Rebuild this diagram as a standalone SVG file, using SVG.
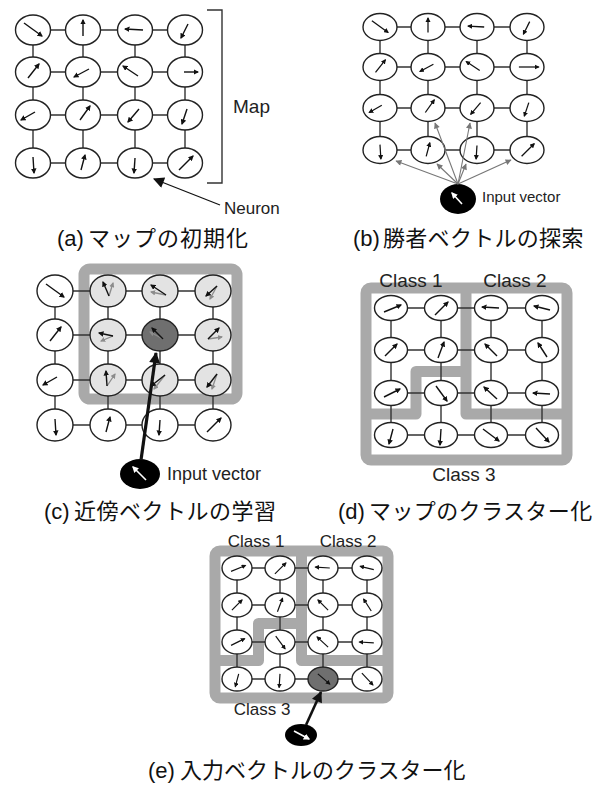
<svg xmlns="http://www.w3.org/2000/svg" width="608" height="787" viewBox="0 0 608 787">
<style>
.n{fill:#fff;stroke:#222;stroke-width:1.4}
.nl{fill:#e3e3e3;stroke:#222;stroke-width:1.4}
.nd{fill:#6f6f6f;stroke:#222;stroke-width:1.4}
.v{fill:none;stroke:#111;stroke-width:1.4;marker-end:url(#ah)}
.vg{fill:none;stroke:#8c8c8c;stroke-width:1.3;marker-end:url(#ahg)}
.vw{fill:none;stroke:#fff;stroke-width:1.6;marker-end:url(#ahw)}
.link{fill:none;stroke:#333;stroke-width:1.4}
.band{fill:none;stroke:#a9a9a9;stroke-width:11;stroke-linejoin:round}
.lbl{font-family:"Liberation Sans",Arial,sans-serif;fill:#222}
.cap{font-family:"Liberation Sans","Noto Sans CJK JP",sans-serif;font-size:22px;fill:#111}
</style>
<defs>
<marker id="ah" viewBox="0 0 10 10" refX="8" refY="5" markerWidth="4" markerHeight="4" orient="auto" markerUnits="strokeWidth"><path d="M0,0L10,5L0,10z" fill="#111"/></marker>
<marker id="ahg" viewBox="0 0 10 10" refX="8" refY="5" markerWidth="4" markerHeight="4" orient="auto" markerUnits="strokeWidth"><path d="M0,0L10,5L0,10z" fill="#8c8c8c"/></marker>
<marker id="ahw" viewBox="0 0 10 10" refX="8" refY="5" markerWidth="4" markerHeight="4" orient="auto" markerUnits="strokeWidth"><path d="M0,0L10,5L0,10z" fill="#fff"/></marker>
<marker id="ahb" viewBox="0 0 10 10" refX="9" refY="5" markerWidth="13" markerHeight="11" orient="auto" markerUnits="userSpaceOnUse"><path d="M0,0L10,5L0,10z" fill="#111"/></marker>
<marker id="ahgr" viewBox="0 0 10 10" refX="9" refY="5" markerWidth="7" markerHeight="6" orient="auto" markerUnits="userSpaceOnUse"><path d="M0,0L10,5L0,10z" fill="#777"/></marker>
</defs>
<rect width="608" height="787" fill="#fff"/>

<!-- class frames -->
<g id="frames">
<rect class="band" x="84" y="269" width="153" height="130" rx="6"/>
<rect class="band" x="366" y="288" width="201" height="172" rx="5"/>
<path class="band" d="M466,288V414H567M366,414H416V371.5H466"/>
<rect class="band" x="215" y="551" width="173" height="147" rx="5"/>
<path class="band" d="M301.5,551V660.5H388M215,660.5H258.5V623.5H301.5"/>
</g>

<!-- grid connectors -->
<g id="connectors">
<path class="link" d="M33,30H185M33,72H185M33,115H185M33,163H185M33,30V163M83,30V163M135,30V163M185,30V163"/>
<path class="link" d="M380,27H527M380,67H527M380,108H527M380,150H527M380,27V150M428,27V150M477,27V150M527,27V150"/>
<path class="link" d="M55,291H213M55,335H213M55,380H213M55,425H213M55,291V425M108,291V425M160,291V425M213,291V425"/>
<path class="link" d="M391,308H542M391,350H542M391,393H542M391,435H542M391,308V435M441,308V435M491,308V435M542,308V435"/>
<path class="link" d="M237,568H367M237,605H367M237,642H367M237,679H367M237,568V679M280,568V679M323,568V679M367,568V679"/>
</g>

<!-- panel (a) nodes -->
<g id="panel-a">
<g id="a11" transform="translate(33,30)"><ellipse class="n" rx="17.5" ry="15"/><path class="v" d="M-9,-7L9,6"/></g>
<g id="a12" transform="translate(83,30)"><ellipse class="n" rx="17.5" ry="15"/><path class="v" d="M0,6L0,-10"/></g>
<g id="a13" transform="translate(135,30)"><ellipse class="n" rx="17.5" ry="15"/><path class="v" d="M8,0L-10,-1"/></g>
<g id="a14" transform="translate(185,30)"><ellipse class="n" rx="17.5" ry="15"/><path class="v" d="M3,-6L-4,8"/></g>
<g id="a21" transform="translate(33,72)"><ellipse class="n" rx="17.5" ry="15"/><path class="v" d="M-5,6L6,-8"/></g>
<g id="a22" transform="translate(83,72)"><ellipse class="n" rx="17.5" ry="15"/><path class="v" d="M6,-3L-9,5"/></g>
<g id="a23" transform="translate(135,72)"><ellipse class="n" rx="17.5" ry="15"/><path class="v" d="M3,4L-12,-6"/></g>
<g id="a24" transform="translate(185,72)"><ellipse class="n" rx="17.5" ry="15"/><path class="v" d="M-1,0L13,0"/></g>
<g id="a31" transform="translate(33,115)"><ellipse class="n" rx="17.5" ry="15"/><path class="v" d="M2,-3L-12,5"/></g>
<g id="a32" transform="translate(83,115)"><ellipse class="n" rx="17.5" ry="15"/><path class="v" d="M-3,5L7,-9"/></g>
<g id="a33" transform="translate(135,115)"><ellipse class="n" rx="17.5" ry="15"/><path class="v" d="M4,-6L-7,7"/></g>
<g id="a34" transform="translate(185,115)"><ellipse class="n" rx="17.5" ry="15"/><path class="v" d="M2,-6L-3,9"/></g>
<g id="a41" transform="translate(33,163)"><ellipse class="n" rx="17.5" ry="15"/><path class="v" d="M0,-6L1,10"/></g>
<g id="a42" transform="translate(83,163)"><ellipse class="n" rx="17.5" ry="15"/><path class="v" d="M-2,7L2,-8"/></g>
<g id="a43" transform="translate(135,163)"><ellipse class="n" rx="17.5" ry="15"/><path class="v" d="M0,-5L-1,10"/></g>
<g id="a44" transform="translate(185,163)"><ellipse class="n" rx="17.5" ry="15"/><path class="v" d="M-6,7L8,-7"/></g>
<path id="map-bracket" d="M207,10H222V183H207" fill="none" stroke="#333" stroke-width="1.4"/>
<text class="lbl" x="233" y="113" font-size="19">Map</text>
<text class="lbl" x="224" y="214" font-size="17">Neuron</text>
</g>

<!-- panel (b) nodes -->
<g id="panel-b">
<g id="b11" transform="translate(380,27)"><ellipse class="n" rx="17" ry="13.5"/><path class="v" transform="scale(0.9)" d="M-9,-7L9,6"/></g>
<g id="b12" transform="translate(428,27)"><ellipse class="n" rx="17" ry="13.5"/><path class="v" transform="scale(0.9)" d="M0,6L0,-10"/></g>
<g id="b13" transform="translate(477,27)"><ellipse class="n" rx="17" ry="13.5"/><path class="v" transform="scale(0.9)" d="M8,0L-10,-1"/></g>
<g id="b14" transform="translate(527,27)"><ellipse class="n" rx="17" ry="13.5"/><path class="v" transform="scale(0.9)" d="M3,-6L-4,8"/></g>
<g id="b21" transform="translate(380,67)"><ellipse class="n" rx="17" ry="13.5"/><path class="v" transform="scale(0.9)" d="M-5,6L6,-8"/></g>
<g id="b22" transform="translate(428,67)"><ellipse class="n" rx="17" ry="13.5"/><path class="v" transform="scale(0.9)" d="M6,-3L-9,5"/></g>
<g id="b23" transform="translate(477,67)"><ellipse class="n" rx="17" ry="13.5"/><path class="v" transform="scale(0.9)" d="M3,4L-12,-6"/></g>
<g id="b24" transform="translate(527,67)"><ellipse class="n" rx="17" ry="13.5"/><path class="v" transform="scale(0.9)" d="M-9,0L13,0"/></g>
<g id="b31" transform="translate(380,108)"><ellipse class="n" rx="17" ry="13.5"/><path class="v" transform="scale(0.9)" d="M2,-3L-12,5"/></g>
<g id="b32" transform="translate(428,108)"><ellipse class="n" rx="17" ry="13.5"/><path class="v" transform="scale(0.9)" d="M-3,5L7,-9"/></g>
<g id="b33" transform="translate(477,108)"><ellipse class="n" rx="17" ry="13.5"/><path class="v" transform="scale(0.9)" d="M4,-6L-7,7"/></g>
<g id="b34" transform="translate(527,108)"><ellipse class="n" rx="17" ry="13.5"/><path class="v" transform="scale(0.9)" d="M2,-6L-3,9"/></g>
<g id="b41" transform="translate(380,150)"><ellipse class="n" rx="17" ry="13.5"/><path class="v" transform="scale(0.9)" d="M0,-6L1,10"/></g>
<g id="b42" transform="translate(428,150)"><ellipse class="n" rx="17" ry="13.5"/><path class="v" transform="scale(0.9)" d="M-2,7L2,-8"/></g>
<g id="b43" transform="translate(477,150)"><ellipse class="n" rx="17" ry="13.5"/><path class="v" transform="scale(0.9)" d="M0,-5L-1,10"/></g>
<g id="b44" transform="translate(527,150)"><ellipse class="n" rx="17" ry="13.5"/><path class="v" transform="scale(0.9)" d="M-6,7L8,-7"/></g>
<g id="b-input"><ellipse cx="458" cy="199" rx="18" ry="15" fill="#000"/><path class="vw" d="M462,204L452,193"/></g>
<text class="lbl" x="482" y="202" font-size="15">Input vector</text>
</g>

<!-- panel (c) nodes -->
<g id="panel-c">
<g id="c11" transform="translate(55,291)"><ellipse class="n" rx="18" ry="16"/><path class="v" d="M-9,-7L9,6"/></g>
<g id="c12" transform="translate(108,291)"><ellipse class="nl" rx="18" ry="16"/><path class="vg" d="M1,5L5,-8"/><path class="v" d="M1,5L-5,-9"/></g>
<g id="c13" transform="translate(160,291)"><ellipse class="nl" rx="18" ry="16"/><path class="vg" d="M6,4L-9,1"/><path class="v" d="M6,4L-9,-6"/></g>
<g id="c14" transform="translate(213,291)"><ellipse class="nl" rx="18" ry="16"/><path class="vg" d="M4,-5L-3,8"/><path class="v" d="M4,-5L-7,5"/></g>
<g id="c21" transform="translate(55,335)"><ellipse class="n" rx="18" ry="16"/><path class="v" d="M-5,6L6,-8"/></g>
<g id="c22" transform="translate(108,335)"><ellipse class="nl" rx="18" ry="16"/><path class="vg" d="M5,1L-7,6"/><path class="v" d="M5,1L-9,-2"/></g>
<g id="c23" transform="translate(160,335)"><ellipse class="nd" rx="18" ry="16"/><path class="vg" d="M3,4L-10,-3"/><path class="v" d="M3,4L-8,-7"/></g>
<g id="c24" transform="translate(213,335)"><ellipse class="nl" rx="18" ry="16"/><path class="vg" d="M-5,4L9,2"/><path class="v" d="M-5,4L6,-7"/></g>
<g id="c31" transform="translate(55,380)"><ellipse class="n" rx="18" ry="16"/><path class="v" d="M2,-3L-12,5"/></g>
<g id="c32" transform="translate(108,380)"><ellipse class="nl" rx="18" ry="16"/><path class="vg" d="M-1,6L7,-6"/><path class="v" d="M-1,6L-2,-9"/></g>
<g id="c33" transform="translate(160,380)"><ellipse class="nl" rx="18" ry="16"/><path class="vg" d="M5,-5L-6,9"/><path class="v" d="M5,-5L-9,6"/></g>
<g id="c34" transform="translate(213,380)"><ellipse class="nl" rx="18" ry="16"/><path class="vg" d="M4,-6L-1,9"/><path class="v" d="M4,-6L-6,7"/></g>
<g id="c41" transform="translate(55,425)"><ellipse class="n" rx="18" ry="16"/><path class="v" d="M0,-6L1,10"/></g>
<g id="c42" transform="translate(108,425)"><ellipse class="n" rx="18" ry="16"/><path class="v" d="M-2,7L2,-8"/></g>
<g id="c43" transform="translate(160,425)"><ellipse class="n" rx="18" ry="16"/><path class="v" d="M0,-5L-1,10"/></g>
<g id="c44" transform="translate(213,425)"><ellipse class="n" rx="18" ry="16"/><path class="v" d="M-6,7L8,-7"/></g>
<g id="c-input"><ellipse cx="140" cy="474" rx="20" ry="15" fill="#000"/><path class="vw" d="M146,480L133,467"/></g>
<text class="lbl" x="167" y="480" font-size="18">Input vector</text>
</g>

<!-- panel (d) nodes -->
<g id="panel-d">
<g id="d11" transform="translate(391,308)"><ellipse class="n" rx="16.5" ry="12.5"/><path class="v" d="M-7,4L10,-3"/></g>
<g id="d12" transform="translate(441,308)"><ellipse class="n" rx="16.5" ry="12.5"/><path class="v" d="M-6,7L7,-6"/></g>
<g id="d13" transform="translate(491,308)"><ellipse class="n" rx="16.5" ry="12.5"/><path class="v" d="M8,0L-9,-1"/></g>
<g id="d14" transform="translate(542,308)"><ellipse class="n" rx="16.5" ry="12.5"/><path class="v" d="M8,2L-8,-2"/></g>
<g id="d21" transform="translate(391,350)"><ellipse class="n" rx="16.5" ry="12.5"/><path class="v" d="M-6,6L6,-6"/></g>
<g id="d22" transform="translate(441,350)"><ellipse class="n" rx="16.5" ry="12.5"/><path class="v" d="M-3,8L3,-8"/></g>
<g id="d23" transform="translate(491,350)"><ellipse class="n" rx="16.5" ry="12.5"/><path class="v" d="M6,6L-6,-6"/></g>
<g id="d24" transform="translate(542,350)"><ellipse class="n" rx="16.5" ry="12.5"/><path class="v" d="M5,7L-4,-7"/></g>
<g id="d31" transform="translate(391,393)"><ellipse class="n" rx="16.5" ry="12.5"/><path class="v" d="M-7,4L9,-4"/></g>
<g id="d32" transform="translate(441,393)"><ellipse class="n" rx="16.5" ry="12.5"/><path class="v" d="M-5,-7L6,8"/></g>
<g id="d33" transform="translate(491,393)"><ellipse class="n" rx="16.5" ry="12.5"/><path class="v" d="M6,6L-7,-6"/></g>
<g id="d34" transform="translate(542,393)"><ellipse class="n" rx="16.5" ry="12.5"/><path class="v" d="M8,1L-9,0"/></g>
<g id="d41" transform="translate(391,435)"><ellipse class="n" rx="16.5" ry="12.5"/><path class="v" d="M2,-6L-2,9"/></g>
<g id="d42" transform="translate(441,435)"><ellipse class="n" rx="16.5" ry="12.5"/><path class="v" d="M0,-6L-1,10"/></g>
<g id="d43" transform="translate(491,435)"><ellipse class="n" rx="16.5" ry="12.5"/><path class="v" d="M-8,-6L8,6"/></g>
<g id="d44" transform="translate(542,435)"><ellipse class="n" rx="16.5" ry="12.5"/><path class="v" d="M-6,-7L7,7"/></g>
<text class="lbl" x="411" y="287" font-size="19" text-anchor="middle">Class 1</text>
<text class="lbl" x="515" y="287" font-size="19" text-anchor="middle">Class 2</text>
<text class="lbl" x="464" y="481" font-size="19" text-anchor="middle">Class 3</text>
</g>

<!-- panel (e) nodes -->
<g id="panel-e">
<g id="e11" transform="translate(237,568)"><ellipse class="n" rx="15" ry="12"/><path class="v" transform="scale(0.85)" d="M-7,4L10,-3"/></g>
<g id="e12" transform="translate(280,568)"><ellipse class="n" rx="15" ry="12"/><path class="v" transform="scale(0.85)" d="M-6,7L7,-6"/></g>
<g id="e13" transform="translate(323,568)"><ellipse class="n" rx="15" ry="12"/><path class="v" transform="scale(0.85)" d="M8,0L-9,-1"/></g>
<g id="e14" transform="translate(367,568)"><ellipse class="n" rx="15" ry="12"/><path class="v" transform="scale(0.85)" d="M8,2L-8,-2"/></g>
<g id="e21" transform="translate(237,605)"><ellipse class="n" rx="15" ry="12"/><path class="v" transform="scale(0.85)" d="M-6,6L6,-6"/></g>
<g id="e22" transform="translate(280,605)"><ellipse class="n" rx="15" ry="12"/><path class="v" transform="scale(0.85)" d="M-3,8L3,-8"/></g>
<g id="e23" transform="translate(323,605)"><ellipse class="n" rx="15" ry="12"/><path class="v" transform="scale(0.85)" d="M6,6L-6,-6"/></g>
<g id="e24" transform="translate(367,605)"><ellipse class="n" rx="15" ry="12"/><path class="v" transform="scale(0.85)" d="M5,7L-4,-7"/></g>
<g id="e31" transform="translate(237,642)"><ellipse class="n" rx="15" ry="12"/><path class="v" transform="scale(0.85)" d="M-7,4L9,-4"/></g>
<g id="e32" transform="translate(280,642)"><ellipse class="n" rx="15" ry="12"/><path class="v" transform="scale(0.85)" d="M-5,-7L6,8"/></g>
<g id="e33" transform="translate(323,642)"><ellipse class="n" rx="15" ry="12"/><path class="v" transform="scale(0.85)" d="M6,6L-7,-6"/></g>
<g id="e34" transform="translate(367,642)"><ellipse class="n" rx="15" ry="12"/><path class="v" transform="scale(0.85)" d="M8,1L-9,0"/></g>
<g id="e41" transform="translate(237,679)"><ellipse class="n" rx="15" ry="12"/><path class="v" transform="scale(0.85)" d="M2,-6L-2,9"/></g>
<g id="e42" transform="translate(280,679)"><ellipse class="n" rx="15" ry="12"/><path class="v" transform="scale(0.85)" d="M0,-6L-1,10"/></g>
<g id="e43" transform="translate(323,679)"><ellipse class="nd" rx="15" ry="12"/><path class="v" transform="scale(0.85)" d="M-6,-6L8,6"/></g>
<g id="e44" transform="translate(367,679)"><ellipse class="n" rx="15" ry="12"/><path class="v" transform="scale(0.85)" d="M-6,-7L7,7"/></g>
<g id="e-input"><ellipse cx="301" cy="735" rx="16" ry="11" fill="#000"/><path class="vw" d="M294,731L309,739"/></g>
<text class="lbl" x="256" y="547" font-size="17" text-anchor="middle">Class 1</text>
<text class="lbl" x="348" y="547" font-size="17" text-anchor="middle">Class 2</text>
<text class="lbl" x="262" y="715" font-size="17" text-anchor="middle">Class 3</text>
</g>

<!-- pointer connectors -->
<g id="pointers">
<path d="M220,205L154,179" fill="none" stroke="#111" stroke-width="1.3" marker-end="url(#ahb)"/>
<g fill="none" stroke="#777" stroke-width="1.1" marker-end="url(#ahgr)">
<path d="M458,184L396,161"/>
<path d="M458,184L437,164"/>
<path d="M458,184L466,164"/>
<path d="M458,184L511,160"/>
<path d="M458,184L435,123"/>
<path d="M458,184L470,123"/>
</g>
<path d="M141,460L156,353" fill="none" stroke="#111" stroke-width="3.2" marker-end="url(#ahb)"/>
<path d="M306,725L321,692" fill="none" stroke="#111" stroke-width="2.6" marker-end="url(#ahb)"/>
</g>

<!-- captions -->
<g id="captions">
<text class="cap" y="246"><tspan x="57">(a)</tspan><tspan x="88" letter-spacing="1">マップの初期化</tspan></text>
<text class="cap" y="246"><tspan x="353">(b)</tspan><tspan x="383" letter-spacing="0.3">勝者ベクトルの探索</tspan></text>
<text class="cap" y="519"><tspan x="44">(c)</tspan><tspan x="74" letter-spacing="0.5">近傍ベクトルの学習</tspan></text>
<text class="cap" y="519"><tspan x="338">(d)</tspan><tspan x="369" letter-spacing="0.4">マップのクラスター化</tspan></text>
<text class="cap" y="778"><tspan x="148">(e)</tspan><tspan x="180">入力ベクトルのクラスター化</tspan></text>
</g>
</svg>
